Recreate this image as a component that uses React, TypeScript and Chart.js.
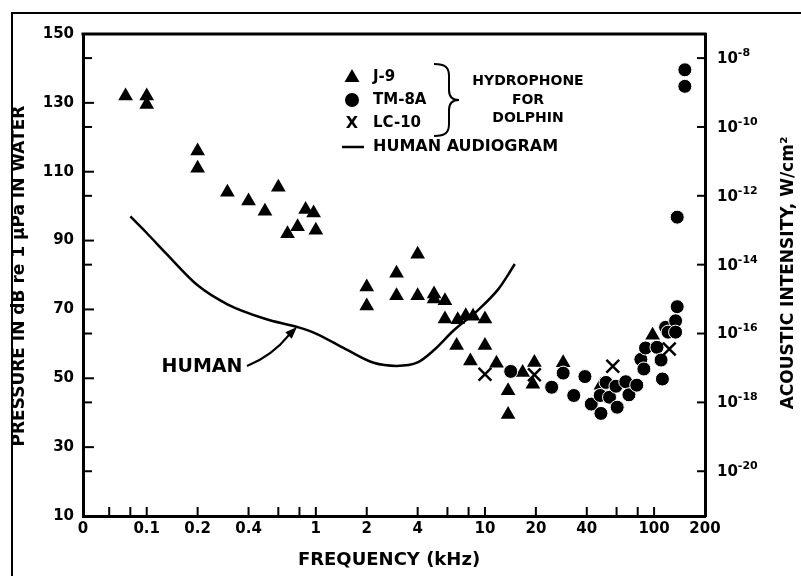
import React, { useEffect, useRef } from 'react';
import { Chart, registerables } from 'chart.js';

Chart.register(...registerables);

// ---------- data (frequency in kHz, level in dB re 1 µPa) ----------
const j9Freq = [0.075, 0.1, 0.1, 0.2, 0.2, 0.3, 0.4, 0.5, 0.6, 0.68, 0.78, 0.87, 0.97, 1.0, 2, 2, 3, 3, 4, 4, 5, 5, 5.8, 5.8, 6.9, 7.7, 8.5, 10, 6.8, 10, 8.2, 11.7, 13.7, 13.7, 16.7, 19.6, 19.2, 29, 48.5, 98];
const j9Level = [132, 132, 129.5, 116, 111, 104, 101.5, 98.5, 105.5, 92, 94, 99, 98, 93, 76.5, 71, 80.5, 74, 86, 74, 74.5, 73, 72.5, 67.2, 67, 68.2, 68, 67.2, 59.5, 59.5, 55, 54.4, 46.4, 39.5, 51.7, 54.6, 48.3, 54.5, 48, 62.5];

const tm8aFreq = [14.2, 24.8, 29, 33.5, 39, 42.5, 48, 48.5, 52, 54.5, 59.5, 60.5, 68, 71, 79, 83.5, 87, 89, 104, 110, 112, 117, 121, 134, 134, 137, 137, 152, 152];
const tm8aLevel = [52, 47.4, 51.5, 45, 50.5, 42.5, 45, 39.8, 48.8, 44.5, 47.7, 41.6, 49, 45.2, 48, 55.5, 52.7, 58.8, 59, 55.3, 49.8, 64.8, 63.4, 66.7, 63.4, 70.8, 96.8, 139.6, 134.8];

const lc10Freq = [10, 19.6, 57, 123];
const lc10Level = [51.2, 51, 53.5, 58.5];

const humanFreq = [0.08, 0.1, 0.13, 0.2, 0.3, 0.5, 0.8, 1.0, 1.5, 2.2, 3.0, 4.0, 5.0, 6.5, 9.0, 12, 14, 15];
const humanLevel = [97, 92.2, 86.3, 77, 71.5, 67.3, 64.7, 63, 58.5, 54.5, 53.6, 54.6, 58.2, 63.8, 69.6, 75.9, 80.8, 83.2];

// ---------- axes ----------
const xMin = 0.042;
const xMax = 200;
const xTickValues = [0.042, 0.06, 0.08, 0.1, 0.2, 0.4, 0.6, 0.8, 1, 2, 4, 6, 8, 10, 20, 40, 60, 80, 100, 200];
const xLabelValues = [0.042, 0.1, 0.2, 0.4, 1, 2, 4, 10, 20, 40, 100, 200];
const xLabelTexts = ['0', '0.1', '0.2', '0.4', '1', '2', '4', '10', '20', '40', '100', '200'];

const yMin = 10;
const yMax = 150;
const yLabelValues = [10, 30, 50, 70, 90, 110, 130, 150];

const intensityExponents = [-8, -10, -12, -14, -16, -18, -20];
const intensityRefDb = 223; // level (dB) that corresponds to 1 W/cm² on this chart

const FONT = '"DejaVu Sans", "Liberation Sans", sans-serif';

function pts(xs: number[], ys: number[]) {
  return xs.map((x, i) => ({ x, y: ys[i] }));
}

const overlayPlugin = {
  id: 'overlay',
  afterDraw(chart: any) {
    const ctx: CanvasRenderingContext2D = chart.ctx;
    const a = chart.chartArea;
    const xs = chart.scales.x;
    const ys = chart.scales.y;
    ctx.save();
    ctx.strokeStyle = '#000';
    ctx.fillStyle = '#000';
    const seg = (x1: number, y1: number, x2: number, y2: number) => {
      ctx.beginPath();
      ctx.moveTo(x1, y1);
      ctx.lineTo(x2, y2);
      ctx.stroke();
    };

    // outer frame
    ctx.lineWidth = 2;
    ctx.beginPath();
    ctx.moveTo(12, 576);
    ctx.lineTo(12, 13);
    ctx.lineTo(801, 13);
    ctx.stroke();

    // top plot border
    ctx.lineWidth = 3;
    seg(a.left - 1.5, a.top, a.right + 1.5, a.top);

    // inward ticks
    ctx.lineWidth = 2;
    xTickValues.forEach((v) => {
      const px = xs.getPixelForValue(v);
      if (px < a.left + 3 || px > a.right - 3) return;
      seg(px, a.bottom, px, a.bottom - 9);
    });
    yLabelValues.forEach((v) => {
      const py = ys.getPixelForValue(v);
      if (py < a.top + 3 || py > a.bottom - 3) return;
      seg(a.left, py, a.left + 11, py);
    });
    intensityExponents.forEach((e) => {
      const py = ys.getPixelForValue(intensityRefDb + 10 * e);
      seg(a.left, py, a.left + 9, py);
      seg(a.right - 8, py, a.right, py);
    });

    // right axis labels 10^-n
    ctx.textBaseline = 'middle';
    ctx.textAlign = 'left';
    intensityExponents.forEach((e) => {
      const py = ys.getPixelForValue(intensityRefDb + 10 * e);
      ctx.font = `bold 15px ${FONT}`;
      ctx.fillText('10', a.right + 12, py + 1);
      const w = ctx.measureText('10').width;
      ctx.font = `bold 11px ${FONT}`;
      ctx.fillText('-' + Math.abs(e), a.right + 12 + w, py - 5);
    });

    // axis titles
    ctx.textAlign = 'center';
    ctx.font = `bold 18px ${FONT}`;
    ctx.fillText('FREQUENCY (kHz)', 389, 560);
    ctx.font = `bold 17px ${FONT}`;
    ctx.save();
    ctx.translate(20, 276);
    ctx.rotate(-Math.PI / 2);
    ctx.fillText('PRESSURE IN dB re 1 µPa IN WATER', 0, 0);
    ctx.restore();
    ctx.save();
    ctx.translate(789, 273);
    ctx.rotate(-Math.PI / 2);
    ctx.fillText('ACOUSTIC INTENSITY, W/cm²', 0, 0);
    ctx.restore();

    // legend
    const lx = 352;
    ctx.beginPath();
    ctx.moveTo(lx, 69);
    ctx.lineTo(lx + 7.5, 82);
    ctx.lineTo(lx - 7.5, 82);
    ctx.closePath();
    ctx.fill();
    ctx.beginPath();
    ctx.arc(lx, 100, 7, 0, Math.PI * 2);
    ctx.fill();
    ctx.font = `bold 16px ${FONT}`;
    ctx.fillText('X', lx, 124);
    ctx.lineWidth = 2.5;
    seg(342, 147, 364, 147);
    ctx.textAlign = 'left';
    ctx.font = `bold 15px ${FONT}`;
    ctx.fillText('J-9', 373, 77);
    ctx.fillText('TM-8A', 373, 100);
    ctx.fillText('LC-10', 373, 123);
    ctx.font = `bold 16px ${FONT}`;
    ctx.fillText('HUMAN AUDIOGRAM', 373, 147);

    // brace
    ctx.lineWidth = 2;
    ctx.beginPath();
    ctx.moveTo(434, 64);
    ctx.bezierCurveTo(446, 64, 449, 68, 449, 76);
    ctx.lineTo(449, 90);
    ctx.bezierCurveTo(449, 97, 452, 100, 459, 100);
    ctx.bezierCurveTo(452, 100, 449, 103, 449, 110);
    ctx.lineTo(449, 124);
    ctx.bezierCurveTo(449, 132, 446, 136, 434, 136);
    ctx.stroke();

    ctx.textAlign = 'center';
    ctx.font = `bold 14px ${FONT}`;
    ctx.fillText('HYDROPHONE', 528, 81);
    ctx.fillText('FOR', 528, 100);
    ctx.fillText('DOLPHIN', 528, 118);

    // HUMAN annotation with arrow
    ctx.font = `bold 19px ${FONT}`;
    ctx.fillText('HUMAN', 202, 367);
    ctx.lineWidth = 2;
    ctx.beginPath();
    ctx.moveTo(247, 366);
    ctx.quadraticCurveTo(272, 356, 289, 335);
    ctx.stroke();
    const tipX = 297, tipY = 327;
    const ang = Math.atan2(tipY - 335, tipX - 289);
    ctx.beginPath();
    ctx.moveTo(tipX, tipY);
    ctx.lineTo(tipX - 12 * Math.cos(ang) + 4.5 * Math.sin(ang), tipY - 12 * Math.sin(ang) - 4.5 * Math.cos(ang));
    ctx.lineTo(tipX - 12 * Math.cos(ang) - 4.5 * Math.sin(ang), tipY - 12 * Math.sin(ang) + 4.5 * Math.cos(ang));
    ctx.closePath();
    ctx.fill();

    ctx.restore();
  },
};

export default function App() {
  const canvasRef = useRef<HTMLCanvasElement | null>(null);

  useEffect(() => {
    document.body.style.margin = '0';
    const canvas = canvasRef.current;
    if (!canvas) return;
    const tickFont = { family: FONT, size: 15, weight: 'bold' as const };
    const chart = new Chart(canvas, {
      type: 'scatter',
      data: {
        datasets: [
          {
            label: 'HUMAN AUDIOGRAM',
            data: pts(humanFreq, humanLevel),
            showLine: true,
            borderColor: '#000',
            backgroundColor: '#000',
            borderWidth: 2.5,
            pointRadius: 0,
            cubicInterpolationMode: 'monotone',
            order: 10,
          },
          {
            label: 'J-9',
            data: pts(j9Freq, j9Level),
            pointStyle: 'triangle',
            pointRadius: 8.5,
            backgroundColor: '#000',
            borderColor: '#000',
            borderWidth: 0,
            order: 3,
          },
          {
            label: 'TM-8A',
            data: pts(tm8aFreq, tm8aLevel),
            pointStyle: 'circle',
            pointRadius: 7,
            backgroundColor: '#000',
            borderColor: '#fff',
            borderWidth: 1,
            order: 2,
          },
          {
            label: 'LC-10',
            data: pts(lc10Freq, lc10Level),
            pointStyle: 'crossRot',
            pointRadius: 9,
            backgroundColor: '#000',
            borderColor: '#000',
            borderWidth: 2.5,
            order: 1,
          },
        ],
      },
      options: {
        responsive: false,
        animation: false,
        devicePixelRatio: 1,
        layout: { padding: { top: 34, left: 0, right: 0, bottom: 0 } },
        plugins: { legend: { display: false }, tooltip: { enabled: false } },
        scales: {
          x: {
            type: 'logarithmic',
            position: 'bottom',
            min: xMin,
            max: xMax,
            afterBuildTicks: (s: any) => {
              s.ticks = xTickValues.map((v) => ({ value: v }));
            },
            afterFit: (s: any) => {
              s.height = 60;
            },
            grid: { display: false, drawTicks: false },
            border: { display: true, color: '#000', width: 3 },
            ticks: {
              autoSkip: false,
              maxRotation: 0,
              minRotation: 0,
              padding: 4,
              color: '#000',
              font: tickFont,
              callback: (v: any) => {
                const i = xLabelValues.indexOf(Number(v));
                return i >= 0 ? xLabelTexts[i] : '';
              },
            },
          },
          y: {
            type: 'linear',
            position: 'left',
            min: yMin,
            max: yMax,
            afterBuildTicks: (s: any) => {
              s.ticks = yLabelValues.map((v) => ({ value: v }));
            },
            afterFit: (s: any) => {
              s.width = 83;
            },
            grid: { display: false, drawTicks: false },
            border: { display: true, color: '#000', width: 3 },
            ticks: {
              padding: 9,
              color: '#000',
              font: tickFont,
              callback: (v: any) => String(v),
            },
          },
          y2: {
            type: 'linear',
            position: 'right',
            min: yMin,
            max: yMax,
            afterFit: (s: any) => {
              s.width = 96;
            },
            grid: { display: false, drawTicks: false },
            border: { display: true, color: '#000', width: 3 },
            ticks: { display: false },
          },
        },
      },
      plugins: [overlayPlugin],
    } as any);
    return () => chart.destroy();
  }, []);

  return (
    <div style={{ width: 801, height: 576, background: '#fff' }}>
      <canvas ref={canvasRef} width={801} height={576} style={{ display: 'block' }} />
    </div>
  );
}
